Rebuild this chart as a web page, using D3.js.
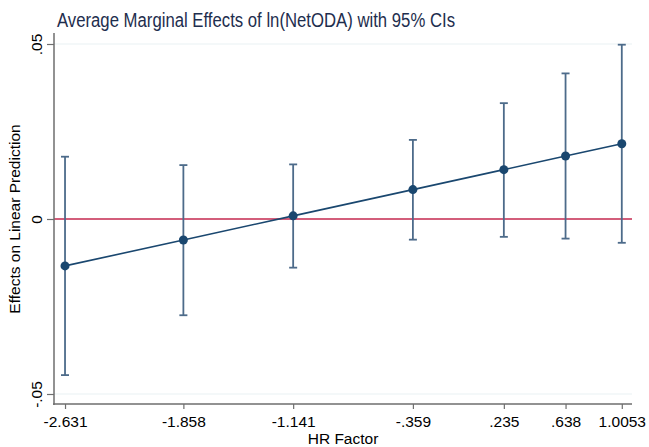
<!DOCTYPE html>
<html>
<head>
<meta charset="utf-8">
<script src="https://cdn.jsdelivr.net/npm/d3@7"></script>
<style>
  body { margin: 0; background: #fff; }
  text { font-family: "Liberation Sans", Arial, sans-serif; }
</style>
</head>
<body>
<script>
'use strict';

const hrFactor = [-2.631, -1.858, -1.141, -0.359, 0.235, 0.638, 1.0053];
const hrLabels = ["-2.631", "-1.858", "-1.141", "-.359", ".235", ".638", "1.0053"];
const effect = [-0.0134, -0.0060, 0.0009, 0.0084, 0.0141, 0.0180, 0.0215];
const ciLow = [-0.0446, -0.0275, -0.0139, -0.0059, -0.0051, -0.0056, -0.0068];
const ciHigh = [0.0178, 0.0154, 0.0156, 0.0226, 0.0331, 0.0416, 0.0498];
const yTicks = [-0.05, 0, 0.05];
const yLabels = ["-.05", "0", ".05"];

const points = hrFactor.map((x, i) => ({ x: x, y: effect[i], lo: ciLow[i], hi: ciHigh[i] }));

const svg = d3.select('body').append('svg')
  .attr('width', 649)
  .attr('height', 447);

const xScale = d3.scaleLinear().domain([-2.703, 1.072]).range([54, 632]);
const yScale = d3.scaleLinear().domain([-0.05, 0.05]).range([394, 44]);

const axisColor = '#6e6e6e';
const navy = '#1a476f';
const ciColor = '#4d6b8a';
const labelSize = '15.5px';

// gridlines
svg.selectAll('.grid')
  .data(yTicks.filter(d => d !== 0))
  .enter().append('line')
    .attr('x1', 54).attr('x2', 632)
    .attr('y1', d => yScale(d)).attr('y2', d => yScale(d))
    .attr('stroke', '#eaf1f3')
    .attr('stroke-width', 1.2);

// zero reference line
svg.append('line')
  .attr('x1', 54).attr('x2', 632)
  .attr('y1', yScale(0)).attr('y2', yScale(0))
  .attr('stroke', '#c4284f')
  .attr('stroke-width', 1.5);

// y axis
const yAxis = d3.axisLeft(yScale)
  .tickValues(yTicks)
  .tickFormat((d, i) => yLabels[i])
  .tickSize(7)
  .tickSizeOuter(0);
const gy = svg.append('g')
  .attr('transform', 'translate(54,0)')
  .call(yAxis);
gy.select('.domain').remove();
gy.append('line')
  .attr('x1', 0).attr('x2', 0).attr('y1', 33).attr('y2', 405)
  .attr('stroke', axisColor).attr('stroke-width', 1.5);
gy.selectAll('.tick line').attr('stroke', axisColor).attr('stroke-width', 1.2);
gy.selectAll('.tick text')
  .attr('transform', 'rotate(-90)')
  .attr('x', 0).attr('y', -12)
  .attr('text-anchor', 'middle')
  .attr('dy', 0)
  .attr('fill', '#000')
  .style('font-size', labelSize);

// x axis
const xAxis = d3.axisBottom(xScale)
  .tickValues(hrFactor)
  .tickFormat((d, i) => hrLabels[i])
  .tickSize(5)
  .tickSizeOuter(0);
const gx = svg.append('g')
  .attr('transform', 'translate(0,404)')
  .call(xAxis);
gx.select('.domain').remove();
gx.append('line')
  .attr('x1', 53).attr('x2', 632).attr('y1', 0).attr('y2', 0)
  .attr('stroke', axisColor).attr('stroke-width', 1.5);
gx.selectAll('.tick line').attr('stroke', axisColor).attr('stroke-width', 1.2);
gx.selectAll('.tick text')
  .attr('y', 23).attr('dy', 0)
  .attr('fill', '#000')
  .style('font-size', labelSize);

// confidence intervals
const ci = svg.append('g');
ci.selectAll('.ci')
  .data(points)
  .enter().append('line')
    .attr('x1', d => xScale(d.x)).attr('x2', d => xScale(d.x))
    .attr('y1', d => yScale(d.lo)).attr('y2', d => yScale(d.hi))
    .attr('stroke', ciColor).attr('stroke-width', 1.8);
['lo', 'hi'].forEach(k => {
  ci.selectAll('.cap-' + k)
    .data(points)
    .enter().append('line')
      .attr('x1', d => xScale(d.x) - 4).attr('x2', d => xScale(d.x) + 4)
      .attr('y1', d => yScale(d[k])).attr('y2', d => yScale(d[k]))
      .attr('stroke', ciColor).attr('stroke-width', 1.8);
});

// connected estimates
svg.append('path')
  .datum(points)
  .attr('d', d3.line().x(d => xScale(d.x)).y(d => yScale(d.y)))
  .attr('fill', 'none')
  .attr('stroke', navy)
  .attr('stroke-width', 1.6);

svg.selectAll('.dot')
  .data(points)
  .enter().append('circle')
    .attr('cx', d => xScale(d.x))
    .attr('cy', d => yScale(d.y))
    .attr('r', 4.5)
    .attr('fill', navy);

// titles
svg.append('text')
  .attr('x', 57).attr('y', 27)
  .attr('fill', '#1e2e4e')
  .attr('textLength', 398)
  .attr('lengthAdjust', 'spacingAndGlyphs')
  .style('font-size', '19.5px')
  .text('Average Marginal Effects of ln(NetODA) with 95% CIs');

svg.append('text')
  .attr('x', 343).attr('y', 444)
  .attr('text-anchor', 'middle')
  .style('font-size', labelSize)
  .text('HR Factor');

svg.append('text')
  .attr('transform', 'translate(20,219)rotate(-90)')
  .attr('text-anchor', 'middle')
  .style('font-size', labelSize)
  .text('Effects on Linear Prediction');
</script>
</body>
</html>
